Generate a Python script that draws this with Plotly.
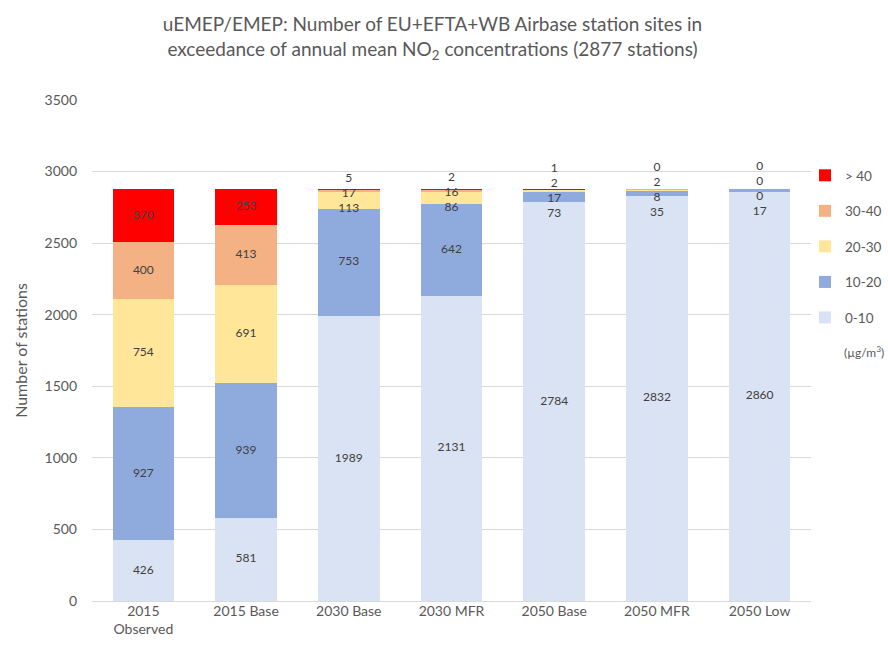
import plotly.graph_objects as go

# Scenario categories on the x axis
categories = ["2015<br>Observed", "2015 Base", "2030 Base", "2030 MFR",
              "2050 Base", "2050 MFR", "2050 Low"]

# Number of stations per annual mean NO2 concentration class (µg/m3)
band_0_10 = [426, 581, 1989, 2131, 2784, 2832, 2860]
band_10_20 = [927, 939, 753, 642, 73, 35, 17]
band_20_30 = [754, 691, 113, 86, 17, 8, 0]
band_30_40 = [400, 413, 17, 16, 2, 2, 0]
band_gt_40 = [370, 253, 5, 2, 1, 0, 0]

series_names = ["0-10", "10-20", "20-30", "30-40", "> 40"]
series_values = [band_0_10, band_10_20, band_20_30, band_30_40, band_gt_40]
series_colors = ["#DAE3F3", "#8FAADC", "#FFE699", "#F4B183", "#FF0000"]

Y_MAX = 3500
FONT = "Lato, Open Sans, sans-serif"
GREY = "#595959"

fig = go.Figure()
n_series = len(series_names)
for i, (name, vals, col) in enumerate(zip(series_names, series_values, series_colors)):
    fig.add_trace(go.Bar(
        x=categories, y=vals, name=name, legendgroup=name,
        legendrank=100 + (n_series - i),  # highest class listed first
        marker=dict(color=col, line=dict(width=0)),
        hovertemplate="%{x}: %{y}<extra>" + name + "</extra>",
    ))


def label_positions(values, gap):
    """Place one label per stacked segment at its centre, spreading
    clusters of labels that would overlap so they stay readable."""
    centers, base = [], 0.0
    for v in values:
        centers.append(base + v / 2.0)
        base += v
    clusters = [[i] for i in range(len(values))]

    def layout(cl):
        mean = sum(centers[i] for i in cl) / len(cl)
        n = len(cl)
        return [mean + (k - (n - 1) / 2.0) * gap for k in range(n)]

    merged = True
    while merged:
        merged = False
        for j in range(len(clusters) - 1):
            low = layout(clusters[j])
            high = layout(clusters[j + 1])
            if high[0] - low[-1] < gap:
                clusters[j] = clusters[j] + clusters[j + 1]
                del clusters[j + 1]
                merged = True
                break
    pos = [0.0] * len(values)
    for cl in clusters:
        for i, y in zip(cl, layout(cl)):
            pos[i] = y
    return pos


# Data labels, one per segment
gap_units = 15 * Y_MAX / 501.0
lab_x, lab_y, lab_t = [], [], []
for ci, cat in enumerate(categories):
    stack = [vals[ci] for vals in series_values]
    for v, y in zip(stack, label_positions(stack, gap_units)):
        lab_x.append(cat)
        lab_y.append(y)
        lab_t.append(str(v))

fig.add_trace(go.Scatter(
    x=lab_x, y=lab_y, text=lab_t, mode="text",
    textfont=dict(family=FONT, size=12, color="#404040"),
    showlegend=False, hoverinfo="skip",
))

fig.update_layout(
    width=888, height=657,
    margin=dict(l=92, r=77, t=100, b=56, autoexpand=False),
    paper_bgcolor="white", plot_bgcolor="white",
    barmode="stack", bargap=0.4,
    font=dict(family=FONT, size=14, color=GREY),
    title=dict(
        text="uEMEP/EMEP: Number of EU+EFTA+WB Airbase station sites in<br>"
             "exceedance of annual mean NO<sub>2</sub> concentrations (2877 stations)",
        x=0.487, xref="container", xanchor="center",
        y=1 - 31 / 657.0, yref="container", yanchor="middle",
        font=dict(family=FONT, size=19, color=GREY),
    ),
    legend=dict(
        x=805 / 888.0, xref="container", xanchor="left",
        y=1 - 160 / 657.0, yref="container", yanchor="top",
        traceorder="grouped", tracegroupgap=15,
        font=dict(family=FONT, size=13.5, color=GREY),
        bgcolor="rgba(0,0,0,0)",
    ),
    xaxis=dict(
        showline=False, ticks="", showgrid=False,
        tickfont=dict(family=FONT, size=14, color=GREY),
    ),
    yaxis=dict(
        range=[0, Y_MAX], dtick=500, showgrid=True, gridcolor="#D9D9D9",
        zeroline=True, zerolinecolor="#D9D9D9", zerolinewidth=1,
        ticks="", ticklabelstandoff=14,
        tickfont=dict(family=FONT, size=14, color=GREY),
        title=dict(text="Number of stations", standoff=12,
                   font=dict(family=FONT, size=16, color=GREY)),
    ),
)

fig.add_annotation(
    text="(µg/m<sup>3</sup>)", xref="paper", yref="paper",
    x=(864 - 92) / 719.0, y=(601 - 352) / 501.0, xanchor="center", yanchor="middle",
    showarrow=False, font=dict(family=FONT, size=12, color=GREY),
)

fig.write_html("out.html")
